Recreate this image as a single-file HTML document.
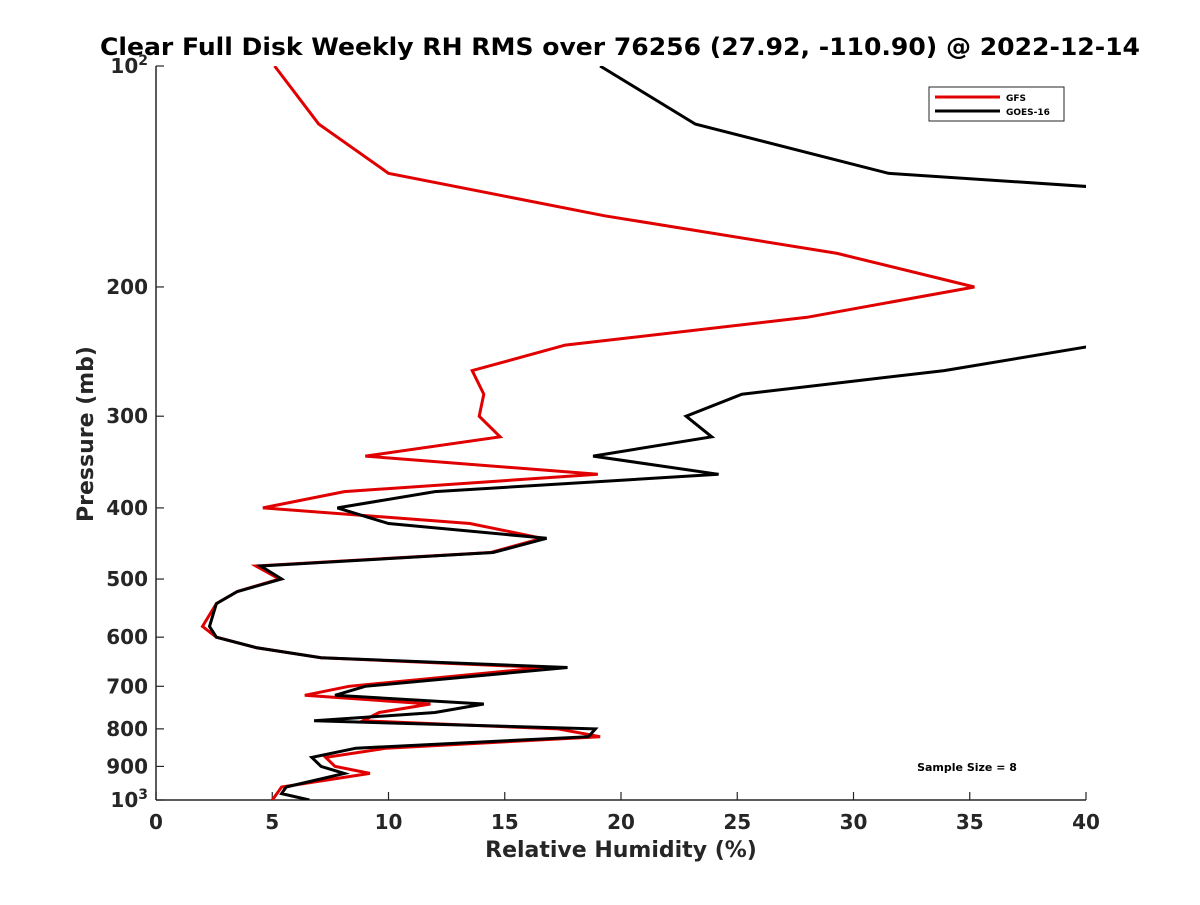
<!DOCTYPE html>
<html><head><meta charset="utf-8"><style>
body{margin:0;background:#fff;}
svg text{font-family:"DejaVu Sans","Liberation Sans",sans-serif;font-weight:bold;fill:#262626;}
</style></head><body>
<svg id="chart" width="1200" height="900" xmlns="http://www.w3.org/2000/svg">
<rect width="1200" height="900" fill="#fff"/>
<defs><clipPath id="plotclip"><rect x="156" y="66" width="930" height="734"/></clipPath></defs>
<text x="100" y="55" font-size="24" textLength="1040" lengthAdjust="spacingAndGlyphs" style="fill:#000">Clear Full Disk Weekly RH RMS over 76256 (27.92, -110.90) @ 2022-12-14</text>
<g id="axes"></g>
<g id="series" clip-path="url(#plotclip)"></g>
<text x="621" y="857" font-size="22" text-anchor="middle">Relative Humidity (%)</text>
<text transform="translate(93,434) rotate(-90)" font-size="22" text-anchor="middle">Pressure (mb)</text>
<text x="967" y="771" font-size="11" text-anchor="middle" style="fill:#000">Sample Size = 8</text>
<g>
<rect x="929" y="87" width="135" height="34" fill="#fff" stroke="#262626" stroke-width="1"/>
<line x1="935" y1="97" x2="1000" y2="97" stroke="#e00000" stroke-width="3"/>
<text x="1006" y="101" font-size="9" style="fill:#000">GFS</text>
<line x1="935" y1="111" x2="1000" y2="111" stroke="#000" stroke-width="3"/>
<text x="1006" y="115" font-size="9" style="fill:#000">GOES-16</text>
</g>
</svg>
<script>
const pressures=[100,120,140,160,180,200,220,240,260,280,300,320,340,360,380,400,420,440,460,480,500,520,540,580,600,620,640,660,700,720,740,760,780,800,820,850,875,900,920,960,980,1000];
const gfsValues=[5.1,7.0,10.0,19.3,29.3,35.2,28.0,17.6,13.6,14.1,13.9,14.8,9.0,19.0,8.1,4.6,13.5,16.6,14.4,4.3,5.3,3.5,2.6,2.0,2.6,4.3,7.1,16.7,8.3,6.4,11.8,9.6,8.9,17.3,19.1,9.9,7.3,7.7,9.2,5.4,5.2,5.0];
const goesValues=[19.1,23.2,31.5,59,62,60,50,40.5,33.9,25.2,22.8,23.9,18.8,24.2,12.0,7.8,10.0,16.8,14.5,4.5,5.4,3.5,2.6,2.3,2.6,4.3,7.1,17.7,9.0,7.7,14.1,12.0,6.8,18.9,18.6,8.6,6.7,7.1,8.1,5.6,5.4,6.6];
const xTicks=[0,5,10,15,20,25,30,35,40];
const yTicks=[100,200,300,400,500,600,700,800,900,1000];
const NS="http://www.w3.org/2000/svg";
const X0=156,X1=1086,Y0=66,Y1=800;
const xs=v=>X0+(v/40)*(X1-X0);
const ys=p=>Y0+(Math.log10(p)-2)*(Y1-Y0);
function mk(tag,attrs,parent){const e=document.createElementNS(NS,tag);for(const k in attrs)e.setAttribute(k,attrs[k]);parent.appendChild(e);return e;}
const axes=document.getElementById('axes');
let l=mk('line',{x1:X0,y1:Y0,x2:X0,y2:Y1,stroke:'#262626','stroke-width':1.5},axes);


l=mk('line',{x1:X0,y1:Y1,x2:X1,y2:Y1,stroke:'#262626','stroke-width':1.5},axes);


xTicks.forEach(v=>{
  const t=mk('line',{x1:xs(v),y1:Y1,x2:xs(v),y2:Y1-8,stroke:'#262626','stroke-width':1.2},axes);
  
  
  const tx=mk('text',{x:xs(v),y:Y1+29,'font-size':20,'text-anchor':'middle'},axes);
  tx.textContent=v;
  
  
});
yTicks.forEach(p=>{
  const t=mk('line',{x1:X0,y1:ys(p),x2:X0+8,y2:ys(p),stroke:'#262626','stroke-width':1.2},axes);
  
  
  const tx=mk('text',{x:X0-8,y:ys(p)+7,'font-size':20,'text-anchor':'end'},axes);
  if(p===100||p===1000){
    tx.textContent='10';
    const s=mk('tspan',{dy:-8,'font-size':14},tx);s.textContent=p===100?'2':'3';
  } else tx.textContent=p;
  
  
});
const series=document.getElementById('series');
function draw(vals,color,name){
  const d=vals.map((v,i)=>(i?'L':'M')+xs(v).toFixed(1)+' '+ys(pressures[i]).toFixed(1)).join(' ');
  const p=mk('path',{d:d,fill:'none',stroke:color,'stroke-width':3,'stroke-linejoin':'miter'},series);
  
  
}
draw(gfsValues,'#e00000','gfs-line');
draw(goesValues,'#000000','goes16-line');
</script>
</body></html>
